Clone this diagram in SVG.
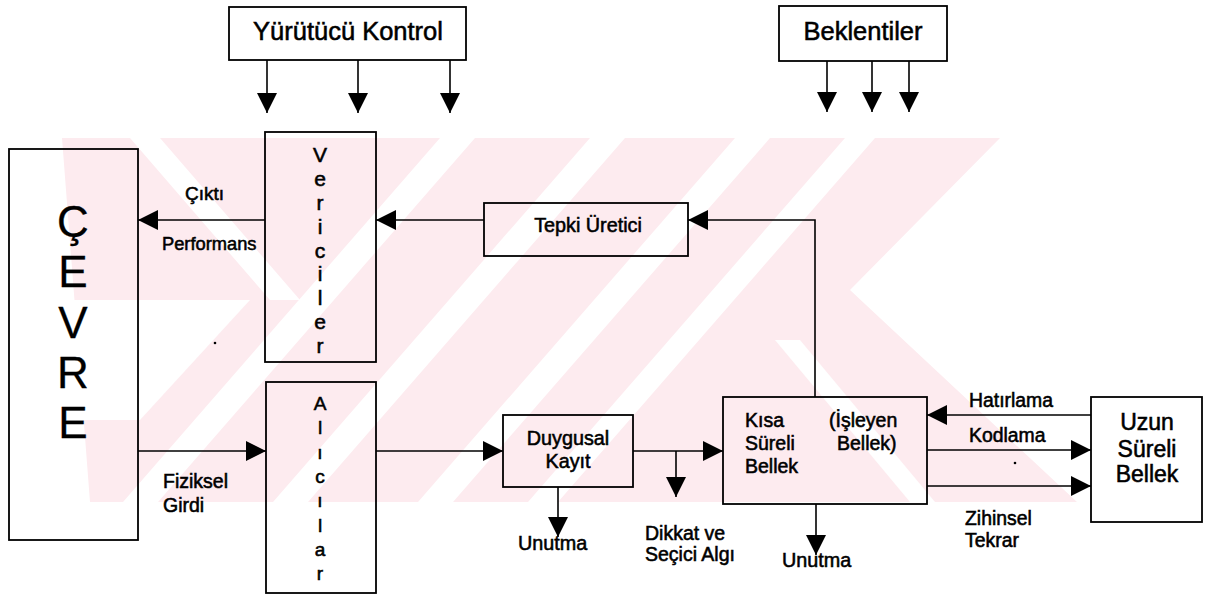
<svg xmlns="http://www.w3.org/2000/svg" width="1210" height="598" viewBox="0 0 1210 598">
<defs>
<style>
.box{fill:none;stroke:#000;stroke-width:1.8}
.ln{fill:none;stroke:#000;stroke-width:1.6}
.t{font-family:"Liberation Sans",Arial,sans-serif;fill:#000;stroke:#000;stroke-width:0.55}
.big{font-family:"Liberation Sans",Arial,sans-serif;font-size:44px;fill:#000;stroke:#000;stroke-width:0.3}
.wm{fill:#fdebef}
.wh{fill:#ffffff}
</style>
<marker id="ah" markerUnits="userSpaceOnUse" markerWidth="20" markerHeight="20" viewBox="0 0 20 20" refX="20" refY="10" orient="auto">
<path d="M0,0 L20,10 L0,20 Z" fill="#000"/>
</marker>
<clipPath id="band"><rect x="0" y="138" width="1210" height="364"/></clipPath>
</defs>
<rect width="1210" height="598" fill="#fff"/>
<g id="watermark" clip-path="url(#band)">
<polygon class="wm" points="62,138 1000,138 850,290 1077,502 90,502"/>
<polygon class="wh" points="130,138 160,138 300,300 270,300"/>
<polygon class="wh" points="62,300 250,300 140,420 62,420"/>
<polygon class="wh" points="440,138 475,138 158,502 123,502"/>
<polygon class="wh" points="590,138 625,138 308,502 273,502"/>
<polygon class="wh" points="735,138 770,138 453,502 418,502"/>
<polygon class="wh" points="845,138 875,138 558,502 528,502"/>
<polygon class="wh" points="775,340 800,340 935,502 910,502"/>
</g>
<g id="connectors">
<line class="ln" x1="267" y1="60" x2="267" y2="113" marker-end="url(#ah)"/>
<line class="ln" x1="358" y1="60" x2="358" y2="113" marker-end="url(#ah)"/>
<line class="ln" x1="450" y1="60" x2="450" y2="113" marker-end="url(#ah)"/>
<line class="ln" x1="827" y1="61" x2="827" y2="112" marker-end="url(#ah)"/>
<line class="ln" x1="872" y1="61" x2="872" y2="112" marker-end="url(#ah)"/>
<line class="ln" x1="909" y1="61" x2="909" y2="112" marker-end="url(#ah)"/>
<line class="ln" x1="265" y1="220" x2="138" y2="220" marker-end="url(#ah)"/>
<line class="ln" x1="484" y1="220" x2="376" y2="220" marker-end="url(#ah)"/>
<polyline class="ln" points="815,397 815,220 688,220" marker-end="url(#ah)"/>
<line class="ln" x1="138" y1="451" x2="266" y2="451" marker-end="url(#ah)"/>
<line class="ln" x1="376" y1="451" x2="503" y2="451" marker-end="url(#ah)"/>
<line class="ln" x1="633" y1="451" x2="723" y2="451" marker-end="url(#ah)"/>
<line class="ln" x1="676" y1="451" x2="676" y2="497" marker-end="url(#ah)"/>
<line class="ln" x1="558" y1="487" x2="558" y2="537" marker-end="url(#ah)"/>
<line class="ln" x1="816" y1="504" x2="816" y2="555" marker-end="url(#ah)"/>
<line class="ln" x1="1091" y1="415" x2="927" y2="415" marker-end="url(#ah)"/>
<line class="ln" x1="927" y1="450" x2="1091" y2="450" marker-end="url(#ah)"/>
<line class="ln" x1="927" y1="486" x2="1091" y2="486" marker-end="url(#ah)"/>
</g>
<g id="yurutucu">
<rect class="box" x="229" y="7" width="237" height="53"/>
<text class="t" x="348" y="40" font-size="25.5" text-anchor="middle">Yürütücü Kontrol</text>
</g>
<g id="beklentiler">
<rect class="box" x="779" y="6" width="168" height="55"/>
<text class="t" x="863" y="40" font-size="25.5" text-anchor="middle">Beklentiler</text>
</g>
<g id="cevre">
<rect class="box" x="9" y="149" width="129" height="391"/>
<text class="big" x="73" text-anchor="middle"><tspan x="73" y="237">Ç</tspan><tspan x="73" y="287">E</tspan><tspan x="73" y="338">V</tspan><tspan x="73" y="388">R</tspan><tspan x="73" y="438">E</tspan></text>
</g>
<g id="vericiler">
<rect class="box" x="265" y="132" width="111" height="230"/>
<text class="t" font-size="21" text-anchor="middle"><tspan x="320" y="162">V</tspan><tspan x="320" y="186">e</tspan><tspan x="320" y="210">r</tspan><tspan x="320" y="234">i</tspan><tspan x="320" y="258">c</tspan><tspan x="320" y="281">i</tspan><tspan x="320" y="305">l</tspan><tspan x="320" y="329">e</tspan><tspan x="320" y="353">r</tspan></text>
</g>
<g id="alicilar">
<rect class="box" x="266" y="382" width="110" height="211"/>
<text class="t" font-size="19" text-anchor="middle"><tspan x="320" y="410">A</tspan><tspan x="320" y="434">l</tspan><tspan x="320" y="459">ı</tspan><tspan x="320" y="483">c</tspan><tspan x="320" y="507">ı</tspan><tspan x="320" y="532">l</tspan><tspan x="320" y="556">a</tspan><tspan x="320" y="580">r</tspan></text>
</g>
<g id="tepki">
<rect class="box" x="484" y="203" width="204" height="53"/>
<text class="t" x="588" y="232" font-size="19.8" text-anchor="middle">Tepki Üretici</text>
</g>
<g id="duygusal">
<rect class="box" x="503" y="415" width="130" height="72"/>
<text class="t" font-size="19.8" text-anchor="middle"><tspan x="568" y="445">Duygusal</tspan><tspan x="568" y="468">Kayıt</tspan></text>
</g>
<g id="kisa">
<rect class="box" x="723" y="397" width="204" height="107"/>
<text class="t" font-size="19.5"><tspan x="745" y="427">Kısa</tspan><tspan x="745" y="450">Süreli</tspan><tspan x="745" y="473">Bellek</tspan></text>
<text class="t" font-size="19.5"><tspan x="829" y="427">(İşleyen</tspan><tspan x="837" y="450">Bellek)</tspan></text>
</g>
<g id="uzun">
<rect class="box" x="1091" y="397" width="111" height="125"/>
<text class="t" font-size="23" text-anchor="middle"><tspan x="1147" y="430">Uzun</tspan><tspan x="1147" y="457">Süreli</tspan><tspan x="1147" y="482">Bellek</tspan></text>
</g>
<g id="labels">
<text class="t" x="185" y="200" font-size="19">Çıktı</text>
<text class="t" x="162" y="250" font-size="18.3">Performans</text>
<text class="t" font-size="19.5"><tspan x="163" y="488">Fiziksel</tspan><tspan x="163" y="512">Girdi</tspan></text>
<text class="t" x="518" y="550" font-size="19.8">Unutma</text>
<text class="t" font-size="19.5"><tspan x="645" y="540">Dikkat ve</tspan><tspan x="645" y="561">Seçici Algı</tspan></text>
<text class="t" x="782" y="567" font-size="19.8">Unutma</text>
<text class="t" x="969" y="407" font-size="19.4">Hatırlama</text>
<text class="t" x="969" y="442" font-size="19.4">Kodlama</text>
<text class="t" font-size="19.4"><tspan x="965" y="525">Zihinsel</tspan><tspan x="965" y="547">Tekrar</tspan></text>
<circle cx="215" cy="343" r="1.3" fill="#000"/>
<circle cx="1015" cy="463" r="1.3" fill="#000"/>
</g>
</svg>
